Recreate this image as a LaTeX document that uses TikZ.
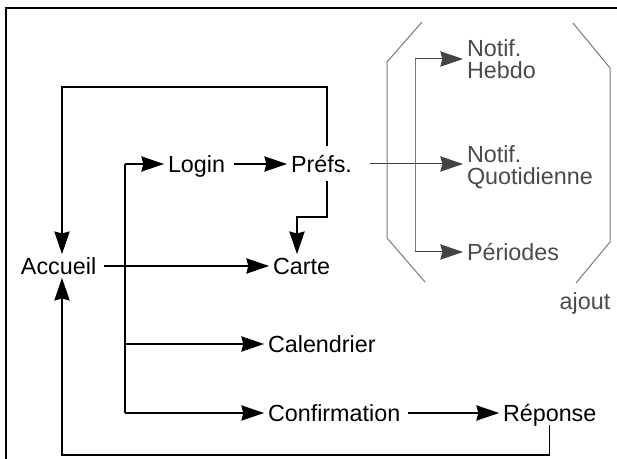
\documentclass[tikz,border=0pt]{standalone}
\usepackage{fontspec}
\setmainfont{Liberation Sans}
\usetikzlibrary{arrows.meta}
\definecolor{gtext}{HTML}{4A4A4A}
\definecolor{gline}{HTML}{7A7A7A}
\definecolor{garrow}{HTML}{444444}
\tikzset{
  lbl/.style={anchor=west, inner xsep=3pt, inner ysep=2.5pt, outer sep=0pt,
    font=\fontsize{17.5}{16.5}\selectfont, text height=12.5pt, text depth=0.3pt},
  glbl/.style={anchor=west, inner xsep=3pt, inner ysep=2.5pt, outer sep=0pt,
    font=\fontsize{17.5}{16.5}\selectfont, text=gtext, align=left},
  link/.style={line width=0.9pt, draw=black},
  arr/.style={link, -{Stealth[length=17pt, width=11.5pt, inset=1.5pt]}},
  glink/.style={line width=0.75pt, draw=gline},
  garr/.style={glink, -{Stealth[length=17pt, width=11.5pt, inset=1.5pt]}, color=garrow},
  paren/.style={line width=0.75pt, draw=gline},
}
\begin{document}
\begin{tikzpicture}[x=0.75pt, y=-0.75pt]
\useasboundingbox (0,0) rectangle (617,459);
% frame
\draw[line width=1pt] (6,459) -- (6,8) -- (617,8);

% nodes
\node[lbl] (accueil) at (17,266) {Accueil};
\node[lbl] (login) at (164,164) {Login};
\node[lbl] (prefs) at (287,164) {Préfs.};
\node[lbl] (carte) at (269,266) {Carte};
\node[lbl] (cal) at (264,344) {Calendrier};
\node[lbl] (conf) at (264,413) {Confirmation};
\node[lbl] (rep) at (499,413) {Réponse};
\node[glbl] (nh) at (463,59) {Notif.\\Hebdo};
\node[glbl] (nq) at (463,167) {Notif.\\Quotidienne};
\node[glbl, text height=12.5pt, text depth=0.3pt] (per) at (463,252) {Périodes};
\node[font=\fontsize{17.5}{16.5}\selectfont, text=gtext, inner sep=0pt] (ajout) at (585,303) {ajout};

% helper coordinates
\coordinate (tr) at (125,0);
\coordinate (pv) at (327,0);
\coordinate (ax) at (62,0);
\coordinate (cx) at (297,0);
\coordinate (gx) at (415,0);
\coordinate (topy) at (0,87);
\coordinate (midy) at (0,217);
\coordinate (boty) at (0,455);

% main connectors
\draw[arr, shorten <=3pt] (accueil.east) -- (accueil.east -| carte.west);
\draw[link] (tr |- login.west) -- (tr |- conf.west);
\draw[arr] (tr |- login.west) -- (login.west);
\draw[arr] (tr |- cal.west) -- (cal.west);
\draw[arr] (tr |- conf.west) -- (conf.west);
\draw[arr, shorten <=3.75pt] (login.east) -- (prefs.west);
\draw[arr, shorten <=3pt] (conf.east) -- (rep.west);
\draw[arr, shorten <=4.5pt] (pv |- prefs.north) -- (pv |- topy) -| (ax |- accueil.north);
\draw[arr, shorten <=3.75pt] (pv |- prefs.south) -- (pv |- midy) -| (cx |- carte.north);
\draw[arr] (rep.south) -- (rep.south |- boty) -| (ax |- accueil.south);

% grey group
\draw[garr, shorten <=10.5pt] (prefs.east) -- (prefs.east -| nq.west);
\draw[glink] (gx |- nh.west) -- (gx |- per.west);
\draw[garr] (gx |- nh.west) -- (nh.west);
\draw[garr] (gx |- per.west) -- (per.west);

% brackets
\draw[paren] (422,22) -- (387,62) -- (387,238) -- (425,282);
\draw[paren] (573,23) -- (610,68) -- (610,242) -- (576,283);
\end{tikzpicture}
\end{document}
